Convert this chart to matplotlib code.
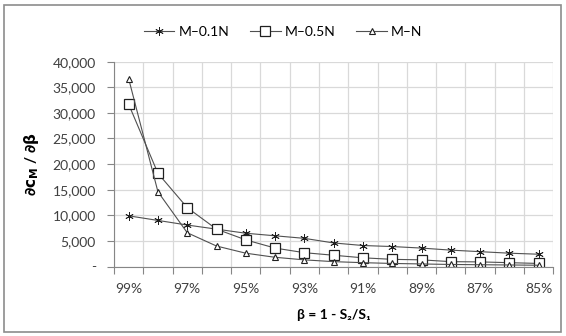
import numpy as np
import matplotlib
matplotlib.use('Agg')
import matplotlib.pyplot as plt
from matplotlib.ticker import FuncFormatter, MultipleLocator

plt.rcParams['font.family'] = ['Lato', 'DejaVu Sans']

# data
beta_labels = ['99%', '98%', '97%', '96%', '95%', '94%', '93%', '92%',
               '91%', '90%', '89%', '88%', '87%', '86%', '85%']
m_01n = [9900, 9000, 8100, 7300, 6500, 6000, 5500, 4600, 4100, 3900,
         3600, 3200, 2900, 2600, 2400]
m_05n = [31700, 18200, 11500, 7300, 5200, 3600, 2700, 2200, 1700, 1400,
         1300, 950, 900, 750, 600]
m_n = [36700, 14600, 6600, 4000, 2600, 1800, 1300, 950, 750, 600,
       500, 400, 350, 300, 250]

series = [('M\u20130.1N', m_01n, (6, 2, 0), 6, 0.6),
          ('M\u20130.5N', m_05n, 's', 6.5, 0.9),
          ('M\u2013N', m_n, '^', 5, 0.8)]

fig = plt.figure(figsize=(5.66, 3.36), dpi=100)
ax = fig.add_axes([0.2014, 0.2068, 0.7762, 0.6096])

x = np.arange(len(beta_labels))
for label, vals, mk, ms, mew in series:
    ax.plot(x, vals, color='#505050', lw=0.8, marker=mk, markersize=ms,
            markerfacecolor='white', markeredgecolor='#202020',
            markeredgewidth=mew, label=label)

ax.set_xlim(-0.5, len(beta_labels) - 0.5)
ax.set_ylim(0, 40000)
ax.yaxis.set_major_locator(MultipleLocator(5000))
ax.yaxis.set_major_formatter(FuncFormatter(lambda v, p: '-' if v == 0 else f'{v:,.0f}'))

# category boundaries carry ticks and gridlines, labels every other category
ax.set_xticks(np.arange(-0.5, len(beta_labels) + 0.5, 1))
ax.set_xticklabels([])
ax.set_xticks(x[::2], minor=True)
ax.set_xticklabels(beta_labels[::2], minor=True)
ax.tick_params(axis='x', which='minor', length=0, pad=12, labelsize=10, labelcolor='#404040')
ax.tick_params(axis='x', which='major', length=5, color='#868686')
ax.tick_params(axis='y', length=5, color='#868686', labelsize=10, labelcolor='#404040', pad=8)

ax.grid(True, which='major', color='#d9d9d9', lw=0.9)
ax.set_axisbelow(True)
for s in ['top', 'right']:
    ax.spines[s].set_visible(False)
for s in ['left', 'bottom']:
    ax.spines[s].set_color('#868686')

ax.set_xlabel('\u03b2 = 1 - S\u2082/S\u2081', fontsize=10, fontweight='bold', labelpad=10)
ax.set_ylabel(r'$\mathbf{\partial c_M}$ / $\mathbf{\partial \beta}$', fontsize=11,
              fontweight='bold', labelpad=8)

fig.legend(loc='center', bbox_to_anchor=(0.5, 0.905), ncol=3, frameon=False,
           fontsize=10, handlelength=2.2, columnspacing=1.5, handletextpad=0.3)

# outer chart border
fig.patches.append(plt.Rectangle((0.007, 0.012), 0.985, 0.973, transform=fig.transFigure,
                                 fill=False, edgecolor='#8c8c8c', lw=1.2))

fig.savefig('out.png', dpi=100)
